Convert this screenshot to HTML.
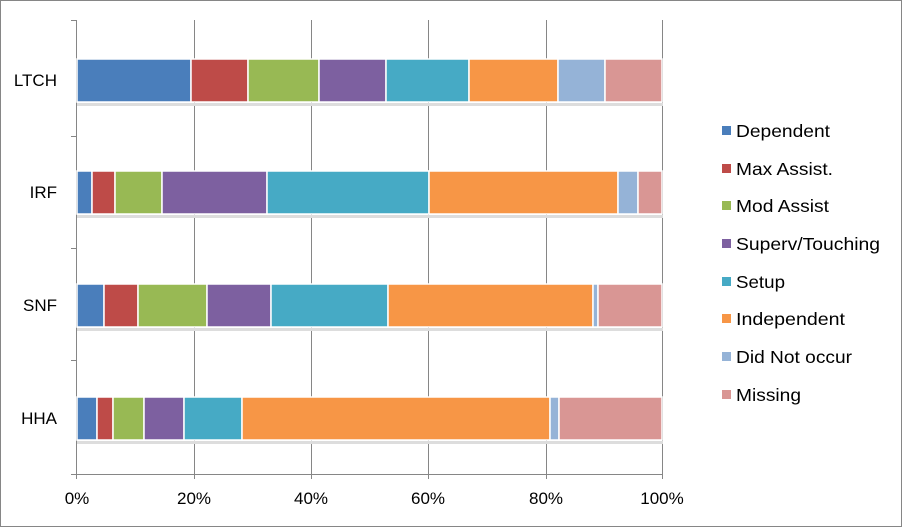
<!DOCTYPE html>
<html><head><style>body{margin:0;background:#fff}svg{display:block}</style></head><body>
<svg width="902" height="527" xmlns="http://www.w3.org/2000/svg" font-family="Liberation Sans, sans-serif">
<rect x="0.5" y="0.5" width="901" height="526" fill="#fff" stroke="#868686"/>
<g stroke="#868686" stroke-width="1">
<line x1="194.5" y1="20" x2="194.5" y2="474"/>
<line x1="311.5" y1="20" x2="311.5" y2="474"/>
<line x1="428.5" y1="20" x2="428.5" y2="474"/>
<line x1="546.5" y1="20" x2="546.5" y2="474"/>
<line x1="662.5" y1="20" x2="662.5" y2="474"/>
<line x1="76.5" y1="20" x2="76.5" y2="474"/>
<line x1="76" y1="474.5" x2="663" y2="474.5"/>
<line x1="71" y1="20.5" x2="76" y2="20.5"/>
<line x1="71" y1="136.5" x2="76" y2="136.5"/>
<line x1="71" y1="248.5" x2="76" y2="248.5"/>
<line x1="71" y1="360.5" x2="76" y2="360.5"/>
<line x1="71" y1="474.5" x2="76" y2="474.5"/>
<line x1="194.5" y1="474" x2="194.5" y2="479"/>
<line x1="311.5" y1="474" x2="311.5" y2="479"/>
<line x1="428.5" y1="474" x2="428.5" y2="479"/>
<line x1="546.5" y1="474" x2="546.5" y2="479"/>
<line x1="662.5" y1="474" x2="662.5" y2="479"/>
<line x1="76.5" y1="474" x2="76.5" y2="479"/>
</g>
<g fill="#ddd">
<rect x="77" y="103" width="586" height="3"/>
<rect x="77" y="215" width="586" height="3"/>
<rect x="77" y="328" width="586" height="3"/>
<rect x="77" y="441" width="586" height="3"/>
</g>
<g stroke="#fff" stroke-width="1.5">
<rect x="77" y="59" width="114" height="43" fill="#4a7ebb"/>
<rect x="191" y="59" width="57" height="43" fill="#be4b48"/>
<rect x="248" y="59" width="71" height="43" fill="#98b954"/>
<rect x="319" y="59" width="67" height="43" fill="#7d60a0"/>
<rect x="386" y="59" width="83" height="43" fill="#46aac5"/>
<rect x="469" y="59" width="89" height="43" fill="#f79646"/>
<rect x="558" y="59" width="47" height="43" fill="#95b3d7"/>
<rect x="605" y="59" width="57" height="43" fill="#d99694"/>
<rect x="77" y="171" width="15" height="43" fill="#4a7ebb"/>
<rect x="92" y="171" width="23" height="43" fill="#be4b48"/>
<rect x="115" y="171" width="47" height="43" fill="#98b954"/>
<rect x="162" y="171" width="105" height="43" fill="#7d60a0"/>
<rect x="267" y="171" width="162" height="43" fill="#46aac5"/>
<rect x="429" y="171" width="189" height="43" fill="#f79646"/>
<rect x="618" y="171" width="20" height="43" fill="#95b3d7"/>
<rect x="638" y="171" width="24" height="43" fill="#d99694"/>
<rect x="77" y="284" width="27" height="43" fill="#4a7ebb"/>
<rect x="104" y="284" width="34" height="43" fill="#be4b48"/>
<rect x="138" y="284" width="69" height="43" fill="#98b954"/>
<rect x="207" y="284" width="64" height="43" fill="#7d60a0"/>
<rect x="271" y="284" width="117" height="43" fill="#46aac5"/>
<rect x="388" y="284" width="205" height="43" fill="#f79646"/>
<rect x="593" y="284" width="5" height="43" fill="#95b3d7"/>
<rect x="598" y="284" width="64" height="43" fill="#d99694"/>
<rect x="77" y="397" width="20" height="43" fill="#4a7ebb"/>
<rect x="97" y="397" width="16" height="43" fill="#be4b48"/>
<rect x="113" y="397" width="31" height="43" fill="#98b954"/>
<rect x="144" y="397" width="40" height="43" fill="#7d60a0"/>
<rect x="184" y="397" width="58" height="43" fill="#46aac5"/>
<rect x="242" y="397" width="308" height="43" fill="#f79646"/>
<rect x="550" y="397" width="9" height="43" fill="#95b3d7"/>
<rect x="559" y="397" width="103" height="43" fill="#d99694"/>
</g>
<g font-size="17" fill="#000" text-anchor="end">
<text x="57" y="86">LTCH</text>
<text x="57" y="198">IRF</text>
<text x="57" y="311">SNF</text>
<text x="57" y="424">HHA</text>
</g>
<g font-size="17" fill="#000" text-anchor="middle">
<text x="77" y="504">0%</text>
<text x="194" y="504">20%</text>
<text x="311" y="504">40%</text>
<text x="428" y="504">60%</text>
<text x="546" y="504">80%</text>
<text x="662" y="504">100%</text>
</g>
<g font-size="17.5" fill="#000">
<rect x="722" y="126" width="9" height="9" fill="#4a7ebb"/><text x="736" y="137" textLength="94" lengthAdjust="spacingAndGlyphs">Dependent</text>
<rect x="722" y="164" width="9" height="9" fill="#be4b48"/><text x="736" y="175" textLength="97" lengthAdjust="spacingAndGlyphs">Max Assist.</text>
<rect x="722" y="201" width="9" height="9" fill="#98b954"/><text x="736" y="212" textLength="93" lengthAdjust="spacingAndGlyphs">Mod Assist</text>
<rect x="722" y="239" width="9" height="9" fill="#7d60a0"/><text x="736" y="250" textLength="144" lengthAdjust="spacingAndGlyphs">Superv/Touching</text>
<rect x="722" y="277" width="9" height="9" fill="#46aac5"/><text x="736" y="288" textLength="49" lengthAdjust="spacingAndGlyphs">Setup</text>
<rect x="722" y="314" width="9" height="9" fill="#f79646"/><text x="736" y="325" textLength="109" lengthAdjust="spacingAndGlyphs">Independent</text>
<rect x="722" y="352" width="9" height="9" fill="#95b3d7"/><text x="736" y="363" textLength="116" lengthAdjust="spacingAndGlyphs">Did Not occur</text>
<rect x="722" y="390" width="9" height="9" fill="#d99694"/><text x="736" y="401" textLength="65" lengthAdjust="spacingAndGlyphs">Missing</text>
</g>
</svg>
</body></html>
